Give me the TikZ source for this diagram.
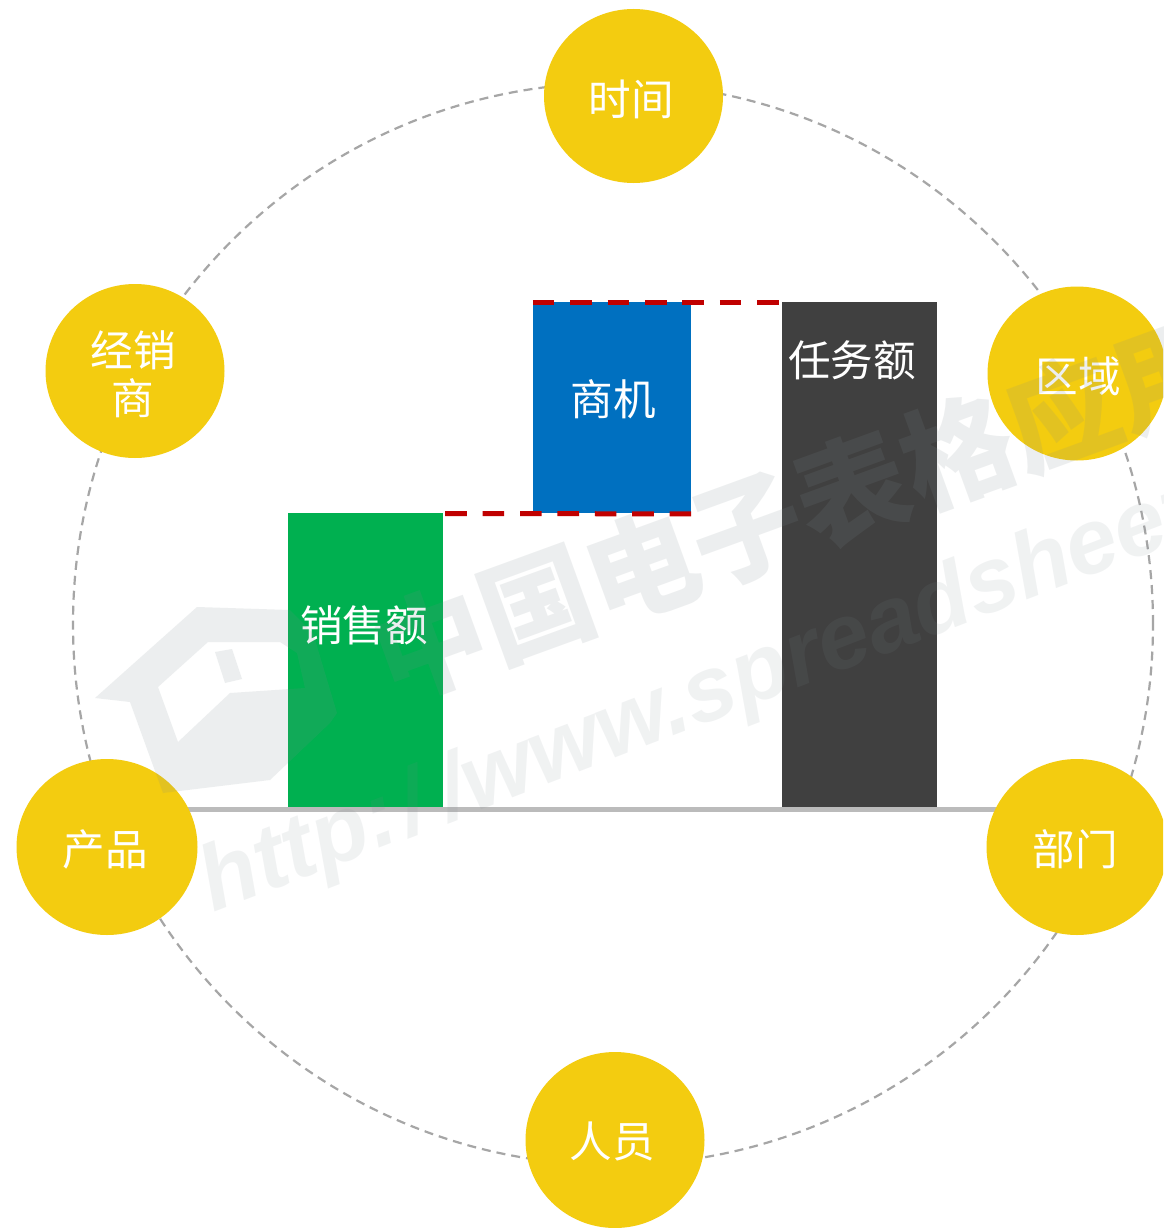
\documentclass[tikz,border=0pt]{standalone}
\usepackage{fontspec}
\setmainfont{Noto Sans CJK SC}
\newfontfamily\wmlatin{Liberation Sans}
\newfontfamily\wmcjk{Noto Sans CJK SC}
\usetikzlibrary{shapes.geometric}
\definecolor{bubble}{HTML}{F3CC10}
\definecolor{ringc}{HTML}{A6A6A6}
\definecolor{basec}{HTML}{BBBBBB}
\definecolor{greenc}{HTML}{00B050}
\definecolor{bluec}{HTML}{0070C0}
\definecolor{darkc}{HTML}{404040}
\definecolor{redc}{HTML}{C00000}
\definecolor{wmc}{HTML}{7F8A8F}
\tikzset{
  bubblenode/.style={ellipse,fill=bubble,inner sep=0pt,minimum width=179pt,minimum height=174pt},
  barnode/.style={rectangle,inner sep=0pt},
  labelnode/.style={inner sep=0pt,text=white,align=center,font=\fontsize{42.6}{48}\selectfont},
  ringnode/.style={ellipse,draw=ringc,line width=2.2pt,dash pattern=on 9pt off 6pt,minimum width=1080pt,minimum height=1082pt,inner sep=0pt},
  gapline/.style={draw=redc,line width=5pt,dash pattern=on 21.6pt off 15.8pt},
  floorline/.style={draw=basec,line width=5pt},
  wmshape/.style={fill=wmc,fill opacity=0.14},
  wmtext/.style={text=wmc,text opacity=0.14,inner sep=0pt}
}
\begin{document}
\begin{tikzpicture}[x=1pt,y=-1pt]
\path[use as bounding box] (0,0) rectangle (1163,1228);
\clip (0,0) rectangle (1163,1228);
\fill[white] (0,0) rectangle (1163,1228);
\node[ringnode] (ring) at (613,624) {};
\coordinate (baseL) at (150,809);
\coordinate (baseR) at (1040,809);
\draw[floorline] (baseL) -- (baseR);
\node[barnode,fill=greenc,minimum width=155pt,minimum height=294pt] (sales) at (365.5,660) {};
\node[barnode,fill=bluec,minimum width=158pt,minimum height=211pt] (opp) at (612,407.5) {};
\node[barnode,fill=darkc,minimum width=155pt,minimum height=505pt] (task) at (859.5,554.5) {};
\node[labelnode] (salesT) at (364,625) {销售额};
\node[labelnode] (oppT) at (613,399) {商机};
\node[labelnode] (taskT) at (852,360) {任务额};
\draw[gapline] ([xshift=2pt,yshift=-0.7pt]sales.north east) -- ([yshift=-0.7pt]opp.south east);
\draw[gapline] ([yshift=-0.7pt]opp.north west) -- ([yshift=-0.7pt]task.north west);
\node[bubblenode] (time) at (633.5,96) {};
\node[bubblenode] (dealer) at (135,371) {};
\node[bubblenode] (region) at (1077,373.5) {};
\node[bubblenode,minimum width=181pt,minimum height=176pt] (prod) at (107,847) {};
\node[bubblenode,minimum width=181pt,minimum height=176pt] (dept) at (1077,847) {};
\node[bubblenode,minimum height=176pt] (staff) at (615,1140) {};
\node[labelnode] (timeT) at (631,99) {时间};
\node[labelnode] (dealerT) at (133,374) {经销\\商};
\node[labelnode] (regionT) at (1078,376) {区域};
\node[labelnode] (prodT) at (105,849) {产品};
\node[labelnode] (deptT) at (1075,849) {部门};
\node[labelnode] (staffT) at (612,1141) {人员};
% watermark
\node[wmtext,anchor=west,rotate=20,font=\wmcjk\bfseries\fontsize{112}{112}\selectfont] (wm1) at (378,662) {中国电子表格应用};
\node[wmtext,text opacity=0.11,anchor=west,rotate=21,font=\wmlatin\bfseries\itshape\fontsize{92}{92}\selectfont] (wm2) at (205,890) {http:\kern6pt/\kern18pt/www.spreadsheet};
\fill[wmshape,even odd rule]
  (95,698) -- (197,607) -- (290,610) -- (313,633) -- (337,713) -- (330,723) -- (270,780) -- (163,793) -- (130,702) -- cycle
  (158,687) -- (208,642) -- (280,642) -- (297,653) -- (305,688) -- (230,693) -- (178,742) -- cycle
  (215,652) -- (232,649) -- (242,679) -- (225,683) -- cycle;
\end{tikzpicture}
\end{document}
